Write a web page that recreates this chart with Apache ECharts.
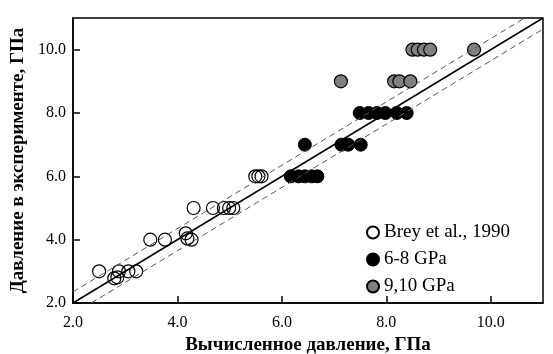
<!DOCTYPE html>
<html>
<head>
<meta charset="utf-8">
<script src="https://cdn.jsdelivr.net/npm/echarts@6/dist/echarts.min.js"></script>
<style>
  html, body { margin: 0; padding: 0; background: #fff; }
  #chart { width: 553px; height: 354px; }
</style>
</head>
<body>
<div id="chart"></div>
<script>
// calculated pressure (x) vs experimental pressure (y), GPa
var breyData = [
  [2.50, 3.0], [2.79, 2.78], [2.85, 2.81], [2.88, 3.0], [3.06, 3.0], [3.21, 3.0],
  [3.48, 4.0], [3.76, 4.0], [4.16, 4.2], [4.19, 4.04], [4.27, 4.0],
  [4.31, 5.0], [4.68, 5.0], [4.89, 5.0], [4.99, 5.0], [5.07, 5.0],
  [5.49, 6.0], [5.55, 6.0], [5.61, 6.0]
];
var gpa68Data = [
  [6.17, 6.0], [6.32, 6.0], [6.44, 6.0], [6.57, 6.0], [6.68, 6.0],
  [6.44, 7.0], [7.14, 7.0], [7.27, 7.0], [7.51, 7.0],
  [7.49, 8.0], [7.66, 8.0], [7.82, 8.0], [7.98, 8.0], [8.20, 8.0], [8.39, 8.0]
];
var gpa910Data = [
  [7.13, 9.0], [8.15, 9.0], [8.25, 9.0], [8.46, 9.0],
  [8.50, 10.0], [8.60, 10.0], [8.72, 10.0], [8.84, 10.0], [9.68, 10.0]
];
var oneToOne = [[2, 2], [11, 11]];
var upperBand = [[2, 2.35], [10.65, 11]];
var lowerBand = [[2.35, 2], [11, 10.65]];
var legendNames = ['Brey et al., 1990', '6-8 GPa', '9,10 GPa'];

var serif = '"Liberation Serif", "DejaVu Serif", serif';
var chart = echarts.init(document.getElementById('chart'));

var option = {
  animation: false,
  backgroundColor: '#fff',
  textStyle: { fontFamily: serif },
  grid: {
    left: 73, right: 10, top: 18, bottom: 51,
    containLabel: false, outerBoundsMode: 'none',
    show: true, borderColor: '#000', borderWidth: 1.5
  },
  legend: {
    data: legendNames,
    orient: 'vertical',
    left: 361, top: 218,
    itemWidth: 12, itemHeight: 12, itemGap: 8,
    textStyle: { fontFamily: serif, fontSize: 19, color: '#000' }
  },
  xAxis: {
    type: 'value', min: 2, max: 11, interval: 2,
    name: 'Вычисленное давление, ГПа',
    nameLocation: 'middle', nameGap: 26,
    nameTextStyle: { fontFamily: serif, fontWeight: 'bold', fontSize: 19, color: '#000' },
    axisLine: { lineStyle: { color: '#000', width: 1.5 } },
    axisTick: { inside: true, length: 7, lineStyle: { color: '#000', width: 1.5 } },
    axisLabel: {
      fontFamily: serif, fontSize: 16, color: '#000', margin: 12,
      formatter: function (v) { return v.toFixed(1); },
      showMaxLabel: false
    },
    splitLine: { show: false }
  },
  yAxis: {
    type: 'value', min: 2, max: 11, interval: 2,
    name: 'Давление в эксперименте, ГПа',
    nameLocation: 'middle', nameGap: 43,
    nameTextStyle: { fontFamily: serif, fontWeight: 'bold', fontSize: 19, color: '#000' },
    axisLine: { lineStyle: { color: '#000', width: 1.5 } },
    axisTick: { inside: true, length: 7, lineStyle: { color: '#000', width: 1.5 } },
    axisLabel: {
      fontFamily: serif, fontSize: 16, color: '#000', margin: 7,
      formatter: function (v) { return v.toFixed(1); },
      showMaxLabel: false
    },
    splitLine: { show: false }
  },
  series: [
    {
      name: 'Brey et al., 1990',
      type: 'scatter',
      symbolSize: 13,
      itemStyle: { color: 'rgba(255,255,255,0)', borderColor: '#000', borderWidth: 1.2, opacity: 1 },
      data: breyData
    },
    {
      name: '6-8 GPa',
      type: 'scatter',
      symbolSize: 13,
      itemStyle: { color: '#000', borderColor: '#000', borderWidth: 1, opacity: 1 },
      data: gpa68Data
    },
    {
      name: '9,10 GPa',
      type: 'scatter',
      symbolSize: 13,
      itemStyle: { color: '#808080', borderColor: '#000', borderWidth: 1.2, opacity: 1 },
      data: gpa910Data
    },
    {
      type: 'line', symbol: 'none', silent: true, z: 5,
      lineStyle: { color: '#000', width: 1.5 },
      data: oneToOne
    },
    {
      type: 'line', symbol: 'none', silent: true, z: 5,
      lineStyle: { color: '#555', width: 1, type: [6, 4] },
      data: upperBand
    },
    {
      type: 'line', symbol: 'none', silent: true, z: 5,
      lineStyle: { color: '#555', width: 1, type: [6, 4] },
      data: lowerBand
    }
  ]
};

chart.setOption(option);
</script>
</body>
</html>
